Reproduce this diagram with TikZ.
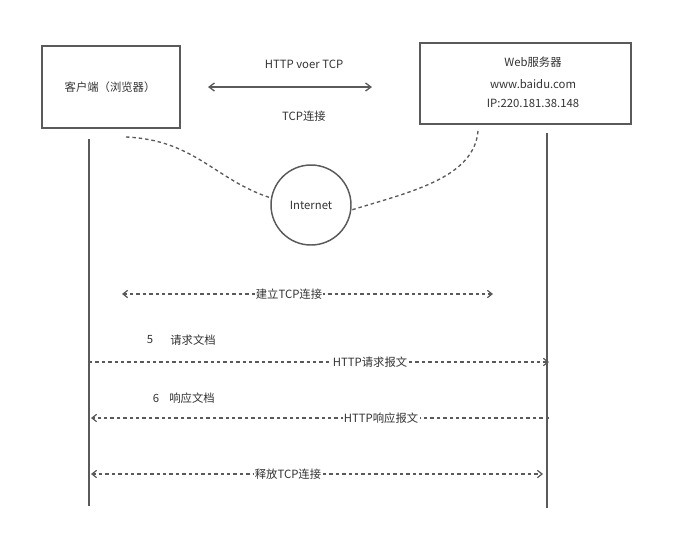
\documentclass[tikz,border=0pt]{standalone}
\usepackage{fontspec}
\setmainfont{Noto Sans CJK SC}
\usetikzlibrary{arrows.meta}
\definecolor{ln}{HTML}{5A5A5A}
\definecolor{tx}{HTML}{333333}
\tikzset{
  box/.style={draw=ln, line width=1.5pt*0.75, rectangle, inner sep=0pt},
  lbl/.style={text=tx, font=\fontsize{8.5}{10}\selectfont, inner sep=1pt},
  msg/.style={draw=ln, line width=0.9pt, dash pattern=on 2.6pt off 2.2pt},
  mytip/.tip={Straight Barb[length=3.5pt, width=5.5pt, line width=0.9pt]},
  bigtip/.tip={Straight Barb[length=4pt, width=6pt, line width=1pt]},
  life/.style={draw=ln, line width=1.1pt},
  link/.style={draw=ln, line width=1pt, dash pattern=on 2.6pt off 2.2pt},
}
\begin{document}
\begin{tikzpicture}[x=0.75pt, y=-0.75pt]
\useasboundingbox (0,0) rectangle (674,540);
% boxes
\node[box, minimum width=138*0.75pt, minimum height=82*0.75pt] (client) at (111,87) {};
\node[lbl] (clientT) at (110,87) {客户端（浏览器）};
\node[box, minimum width=211*0.75pt, minimum height=81*0.75pt] (server) at (525.5,83.5) {};
\node[lbl] (serverA) at (533,62) {Web服务器};
\node[lbl] (serverB) at (533,84) {www.baidu.com};
\node[lbl] (serverC) at (533,103) {IP:220.181.38.148};
% top arrow
\node[lbl] (httpTcp) at (304,64) {HTTP voer TCP};
\node[lbl] (tcpLink) at (304,116) {TCP连接};
\coordinate (ta) at (208,87);
\coordinate (tb) at (372,87);
\draw[draw=ln, line width=1pt, bigtip-bigtip] (ta) -- (tb);
% internet
\node[draw=ln, line width=1.1pt, circle, minimum size=80*0.75pt, inner sep=0pt, lbl] (inet) at (311,205) {Internet};
\coordinate (lc) at (126,137);
\coordinate (rc) at (478,131);
\draw[link] (lc) .. controls (195,140) and (215,180) .. (inet.170);
\draw[link] (rc) .. controls (474,178) and (410,192) .. (inet.-7);
% lifelines
\coordinate (L1) at (89,139);
\coordinate (L2) at (89,506);
\coordinate (R1) at (547,133);
\coordinate (R2) at (547,508);
\draw[life] (L1) -- (L2);
\draw[life] (R1) -- (R2);
% establish
\coordinate (e1) at (122,294);
\coordinate (e2) at (493,294);
\draw[msg, mytip-mytip] (e1) -- (e2);
\node[lbl, fill=white] (estT) at (289,294) {建立TCP连接};
% request
\node[lbl] (n5) at (150,340) {5};
\node[lbl] (reqDoc) at (193,340) {请求文档};
\coordinate (q1) at (89,362);
\coordinate (q2) at (549,362);
\draw[msg, -mytip] (q1) -- (q2);
\node[lbl, fill=white] (reqT) at (370,362) {HTTP请求报文};
% response
\node[lbl] (n6) at (156,398) {6};
\node[lbl] (resDoc) at (192,398) {响应文档};
\coordinate (r1) at (549,418);
\coordinate (r2) at (91,418);
\draw[msg, -mytip] (r1) -- (r2);
\node[lbl, fill=white] (resT) at (381,418) {HTTP响应报文};
% release
\coordinate (f1) at (91,474);
\coordinate (f2) at (543,474);
\draw[msg, mytip-mytip] (f1) -- (f2);
\node[lbl, fill=white] (relT) at (288,474) {释放TCP连接};
\end{tikzpicture}
\end{document}
